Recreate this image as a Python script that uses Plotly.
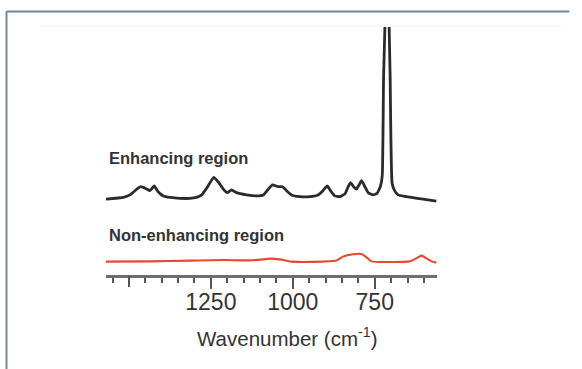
import plotly.graph_objects as go

# Enhancing region spectrum (wavenumber in cm^-1, intensity in arbitrary units)
enh_wavenumber = [1570, 1517, 1497, 1476, 1464, 1446, 1436, 1423, 1411, 1395, 1375, 1344, 1314,
                  1294, 1278, 1263, 1241, 1228, 1212, 1200, 1187, 1172, 1141, 1111, 1090, 1075,
                  1062, 1045, 1031, 1019, 1004, 979, 948, 923, 908, 895, 885, 872, 857, 841, 831,
                  824, 813, 806, 798, 790, 780, 770, 755, 743, 733, 727, 723, 719, 716, 713.5, 711,
                  706, 703, 697, 689, 679, 653, 613, 562]
enh_intensity = [30.6, 31.3, 32.3, 34.6, 35.6, 34.7, 34.0, 35.9, 33.6, 31.9, 31.3, 30.9, 30.9,
                 31.3, 32.3, 35.0, 39.4, 37.6, 34.6, 33.2, 34.3, 33.2, 32.3, 31.9, 32.3, 34.6,
                 36.3, 35.6, 35.6, 34.0, 32.3, 31.6, 31.6, 32.3, 34.0, 35.9, 34.0, 31.9, 31.6, 32.7, 35.6,
                 37.2, 35.4, 34.6, 36.3, 38.0, 35.6, 33.2, 32.3, 32.9, 35.6, 40.3, 80, 100, 160, 250, 160,
                 100, 80, 37, 33.9, 32.3, 31.6, 30.8, 29.8]

# Non-enhancing region spectrum
non_wavenumber = [1570, 1436, 1314, 1212, 1131, 1091, 1070, 1040, 1004, 908, 867, 847, 816, 790,
                  775, 760, 704, 643, 618, 608, 592, 577, 562]
non_intensity = [5.4, 5.5, 5.8, 6.05, 5.9, 6.3, 6.6, 6.3, 5.4, 5.4, 5.8, 7.4, 8.35, 8.5,
                 7.1, 5.5, 5.24, 5.5, 7.1, 7.8, 6.7, 5.5, 5.0]

labeled_ticks = [1250, 1000, 750]
labeled_text = ["1250", "1000", "750"]
long_unlabeled_ticks = [1500]
minor_ticks = [1550, 1450, 1400, 1350, 1300, 1200, 1150, 1100, 1050, 950, 900, 850,
               800, 700, 650, 600]

FONT = "Liberation Sans, Arial, Helvetica, sans-serif"

fig = go.Figure()
fig.add_trace(go.Scatter(x=enh_wavenumber, y=enh_intensity, mode="lines",
                         line=dict(color="#2b2b2b", width=2.8, shape="spline", smoothing=0.4),
                         showlegend=False, hoverinfo="skip"))
fig.add_trace(go.Scatter(x=non_wavenumber, y=non_intensity, mode="lines",
                         line=dict(color="#e8472f", width=2.1, shape="spline", smoothing=0.6),
                         showlegend=False, hoverinfo="skip"))
# invisible trace on the helper axis carrying the long unlabeled tick
fig.add_trace(go.Scatter(x=[None], y=[None], xaxis="x2", yaxis="y", showlegend=False,
                         hoverinfo="skip"))

label_font = dict(family=FONT, size=16.5, color="#333333")
fig.add_annotation(x=1567, y=47.2, xref="x", yref="y", text="<b>Enhancing region</b>",
                   showarrow=False, xanchor="left", yanchor="middle", font=label_font)
fig.add_annotation(x=1567, y=16.1, xref="x", yref="y", text="<b>Non-enhancing region</b>",
                   showarrow=False, xanchor="left", yanchor="middle", font=label_font)
fig.add_annotation(x=0.548, y=-0.25, xref="paper", yref="paper",
                   text="Wavenumber (cm<sup>-1</sup>)", showarrow=False,
                   xanchor="center", yanchor="middle",
                   font=dict(family=FONT, size=20.5, color="#333333"))

# Frame lines of the original figure panel
border = "#72889a"
fig.add_shape(type="line", xref="paper", yref="paper", x0=-0.3006, x1=1.40, y0=1.0625, y1=1.0625,
              line=dict(color=border, width=2))
fig.add_shape(type="line", xref="paper", yref="paper", x0=-0.3006, x1=-0.3006, y0=1.0625, y1=-0.40,
              line=dict(color=border, width=2))
fig.add_shape(type="line", xref="paper", yref="paper", x0=-0.2024, x1=1.377, y0=1.004, y1=1.004,
              line=dict(color="#f2f2f2", width=1))

tick_style = dict(ticks="outside", tickwidth=2, tickcolor="#555555")
fig.update_layout(
    width=582, height=369,
    margin=dict(l=106, r=145, t=27, b=94),
    paper_bgcolor="white", plot_bgcolor="white",
    xaxis=dict(
        range=[1570, 560], autorange=False,
        showgrid=False, zeroline=False,
        showline=True, linecolor="#6e6e6e", linewidth=3,
        tickmode="array", tickvals=labeled_ticks, ticktext=labeled_text,
        ticklen=11, ticklabelstandoff=-7,
        tickfont=dict(family=FONT, size=23, color="#333333"),
        minor=dict(tickmode="array", tickvals=minor_ticks, ticks="outside", ticklen=5,
                   tickwidth=2, tickcolor="#555555", showgrid=False),
        **tick_style,
    ),
    xaxis2=dict(
        range=[1570, 560], autorange=False, overlaying="x", side="bottom",
        anchor="y", showgrid=False, zeroline=False, showline=False,
        tickmode="array", tickvals=long_unlabeled_ticks, showticklabels=False,
        ticklen=11, **tick_style,
    ),
    yaxis=dict(range=[0, 100], visible=False, showgrid=False, zeroline=False),
)

fig.write_html("out.html", config={"displayModeBar": False},
               post_script="document.body.style.margin='0';")
